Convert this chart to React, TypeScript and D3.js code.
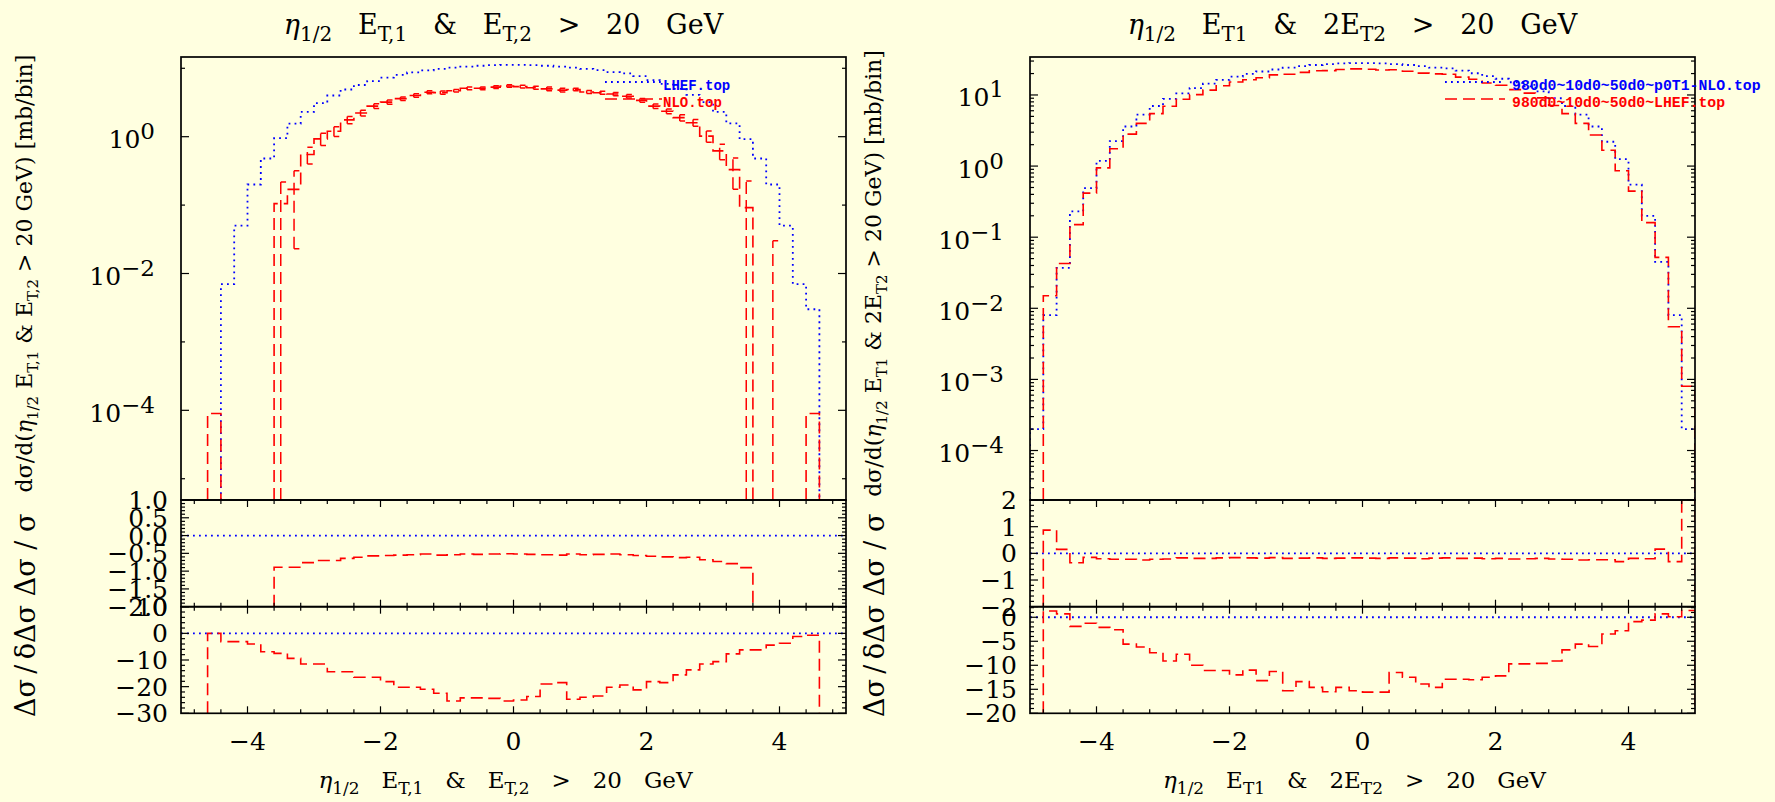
import React from 'react';
import * as d3 from 'd3';

const W = 1775;
const H = 802;
const BG = '#FFFFE0';
const BLUE = '#0000FF';
const RED = '#FF0000';

// vertical layout shared by both panels
const TOP = 57;
const MAIN_BOTTOM = 500;
const R1_BOTTOM = 606.7;
const R2_BOTTOM = 713.3;

// 50 bins of width 0.2 covering eta in [-5, 5]
const EDGES = d3.range(51).map((i) => (i - 25) / 5);
const X_TICK_LABELS = [-4, -2, 0, 2, 4];

// ---------- left panel: eta_1/2, E_T,1 & E_T,2 > 20 GeV ----------
const LHEF_TOP = [0, 0, 0, 0.007, 0.05, 0.2, 0.48, 0.95, 1.55, 2.3, 3.1, 4.0, 4.9, 5.7, 6.5, 7.3, 8.0, 8.7, 9.3, 9.8, 10.2, 10.6, 10.9, 11.1, 11.2, 11.2, 11.1, 10.9, 10.6, 10.2, 9.8, 9.4, 8.8, 8.4, 7.7, 6.7, 5.9, 5.0, 4.1, 3.2, 2.3, 1.57, 0.92, 0.48, 0.2, 0.05, 0.007, 0.003, 0, 0];
const NLO_TOP = [0, 0, 9e-5, 0, 0, 0, 0, 0.105, 0.17, 0.55, 0.93, 1.2, 1.76, 2.22, 2.8, 3.2, 3.6, 4.0, 4.46, 4.41, 4.7, 5.1, 5.1, 5.3, 5.5, 5.4, 5.2, 5.0, 4.8, 4.9, 4.5, 4.4, 4.2, 3.9, 3.4, 2.8, 2.36, 1.9, 1.6, 1.02, 0.62, 0.33, 0.092, 0, -0.02, 0, 0, 9e-5, 0, 0];
const NLO_TOP_ERR = [0, 0, 0, 0, 0, 0, 0, 0.113, 0.147, 0.152, 0.189, 0.194, 0.218, 0.21, 0.225, 0.226, 0.218, 0.233, 0.23, 0.24, 0.217, 0.228, 0.239, 0.237, 0.225, 0.233, 0.248, 0.31, 0.315, 0.215, 0.22, 0.212, 0.227, 0.234, 0.203, 0.215, 0.19, 0.2, 0.18, 0.19, 0.158, 0.16, 0.134, 0, 0.05, 0, 0, 0, 0, 0];
const LEFT_REL_DIFF = [null, null, null, null, null, null, null, -0.89, -0.89, -0.76, -0.7, -0.7, -0.64, -0.61, -0.57, -0.56, -0.55, -0.54, -0.52, -0.55, -0.54, -0.52, -0.53, -0.52, -0.51, -0.52, -0.53, -0.54, -0.55, -0.52, -0.54, -0.53, -0.52, -0.54, -0.56, -0.58, -0.6, -0.62, -0.61, -0.68, -0.73, -0.79, -0.9, null, null, null, null, null, null, null];
const LEFT_SIGNIF = [null, null, 0, -3.1, -3.1, -4.0, -6.9, -7.5, -9.4, -11.5, -11.5, -14.4, -14.4, -16.5, -16.5, -18.1, -20.2, -20.2, -21, -22.5, -25.4, -24.2, -24.2, -24.4, -25.4, -25, -23.7, -19, -18.5, -24.7, -24, -23.5, -20.2, -19.4, -21.2, -18.1, -18.5, -15.6, -13.7, -11.5, -10.6, -7.7, -6.2, -6.2, -4.4, -3.7, -1.2, -0.7, null, null];

// ---------- right panel: eta_1/2, E_T1 & 2E_T2 > 20 GeV ----------
const P0T1_NLO_TOP = [2e-4, 0.008, 0.037, 0.23, 0.49, 1.18, 2.25, 3.6, 5.3, 7.0, 8.8, 10.5, 12.5, 14.4, 16.3, 18.1, 19.8, 21.4, 22.8, 24.2, 25.4, 26.4, 27.2, 27.8, 28.1, 28.1, 27.8, 27.2, 26.4, 25.4, 24.2, 23.6, 22.0, 20.2, 18.4, 16.9, 15.1, 13.2, 11.2, 9.0, 7.0, 5.3, 3.6, 2.2, 1.25, 0.55, 0.2, 0.045, 0.008, 2e-4];
const LHEF_980_TOP = [0, 0.015, 0.0426, 0.15, 0.417, 0.944, 1.755, 2.81, 3.98, 5.46, 6.95, 8.72, 10.1, 11.7, 13.5, 15.2, 16.4, 17.5, 19.2, 19.6, 20.8, 21.9, 22.0, 22.8, 23.3, 23.0, 22.5, 22.6, 21.6, 20.3, 19.8, 19.6, 17.8, 16.6, 14.7, 13.7, 11.9, 10.6, 9.1, 7.1, 5.46, 3.98, 2.74, 1.67, 0.86, 0.445, 0.16, 0.052, 0.0055, 8e-4];
const RIGHT_REL_DIFF = [null, 0.87, 0.15, -0.35, -0.15, -0.2, -0.22, -0.22, -0.25, -0.22, -0.21, -0.17, -0.19, -0.19, -0.17, -0.16, -0.17, -0.18, -0.16, -0.19, -0.18, -0.17, -0.19, -0.18, -0.17, -0.18, -0.19, -0.17, -0.18, -0.2, -0.18, -0.17, -0.19, -0.18, -0.2, -0.19, -0.21, -0.2, -0.19, -0.21, -0.22, -0.25, -0.24, -0.24, -0.31, -0.19, -0.2, 0.16, -0.31, 3.0];
const RIGHT_SIGNIF = [null, 1.3, 0.7, -1.9, -1.25, -2.1, -2.6, -5.6, -6.2, -7.4, -9.1, -7.7, -10.0, -11.1, -11.1, -12.0, -11.0, -13.2, -11.3, -15.3, -13.4, -14.6, -15.5, -14.6, -15.3, -15.6, -15.6, -11.5, -12.5, -13.9, -14.6, -12.9, -12.9, -13.0, -12.5, -12.2, -9.7, -9.7, -9.6, -9.1, -6.8, -5.6, -6.1, -3.5, -2.8, -0.9, -0.6, 0.7, 0.1, 1.4];

// [text, 'sub' | 'sup' | null, italic]
type Part = [string, ('sub' | 'sup' | null)?, boolean?];

const LEFT_TITLE: Part[] = [['η', null, true], ['1/2', 'sub'], ['   E'], ['T,1', 'sub'], ['   &   E'], ['T,2', 'sub'], ['   >   20   GeV']];
const RIGHT_TITLE: Part[] = [['η', null, true], ['1/2', 'sub'], ['   E'], ['T1', 'sub'], ['   &   2E'], ['T2', 'sub'], ['   >   20   GeV']];
const LEFT_VAR: Part[] = [['η', null, true], ['1/2', 'sub'], [' E'], ['T,1', 'sub'], [' & E'], ['T,2', 'sub'], [' > 20 GeV']];
const RIGHT_VAR: Part[] = [['η', null, true], ['1/2', 'sub'], [' E'], ['T1', 'sub'], [' & 2E'], ['T2', 'sub'], [' > 20 GeV']];

const PANELS = [
  {
    id: 'l',
    x0: 181,
    x1: 846,
    logMin: -5.311,
    logMax: 1.165,
    logLabels: [0, -2, -4],
    logMinor: false,
    r1: [-2, 1],
    r1Major: 0.5,
    r1Minor: 0.1,
    r1Labels: ['1.0', '0.5', '0.0', '−0.5', '−1.0', '−1.5', '−2.0'],
    r1LabelVals: [1, 0.5, 0, -0.5, -1, -1.5, -2],
    r2: [-30, 10],
    r2Major: 10,
    r2Minor: 2,
    r2LabelVals: [10, 0, -10, -20, -30],
    blue: LHEF_TOP,
    red: NLO_TOP,
    redErr: NLO_TOP_ERR,
    rel: LEFT_REL_DIFF,
    sig: LEFT_SIGNIF,
    title: LEFT_TITLE,
    variable: LEFT_VAR,
    yTitleX: 32,
    legend: { lx0: 605, lx1: 662, tx: 663, size: 14, blue: 'LHEF.top', red: 'NLO.top' },
  },
  {
    id: 'r',
    x0: 1030,
    x1: 1695,
    logMin: -4.696,
    logMax: 1.534,
    logLabels: [1, 0, -1, -2, -3, -4],
    logMinor: true,
    r1: [-2, 2],
    r1Major: 1,
    r1Minor: 0.2,
    r1Labels: ['2', '1', '0', '−1', '−2'],
    r1LabelVals: [2, 1, 0, -1, -2],
    r2: [-20, 2.2],
    r2Major: 5,
    r2Minor: 1,
    r2LabelVals: [0, -5, -10, -15, -20],
    blue: P0T1_NLO_TOP,
    red: LHEF_980_TOP,
    redErr: null,
    rel: RIGHT_REL_DIFF,
    sig: RIGHT_SIGNIF,
    title: RIGHT_TITLE,
    variable: RIGHT_VAR,
    yTitleX: 881,
    legend: { lx0: 1445, lx1: 1505, tx: 1512, size: 14.8, blue: '980d0~10d0~50d0~p0T1-NLO.top', red: '980d0~10d0~50d0~LHEF.top' },
  },
];

const fmt = (v: number) => (v < 0 ? '−' + String(-v) : String(v));

function Rich({ parts, size, subSize, shift, ...rest }: any) {
  let offset = 0;
  const spans = parts.map(([t, kind, italic]: Part, i: number) => {
    const target = kind === 'sub' ? shift : kind === 'sup' ? -shift : 0;
    const dy = target - offset;
    offset = target;
    return (
      <tspan key={i} dy={dy !== 0 ? dy : undefined} fontSize={kind ? subSize : size} fontStyle={italic ? 'italic' : undefined}>
        {t}
      </tspan>
    );
  });
  return (
    <text {...rest} fontSize={size} style={{ whiteSpace: 'pre' }}>
      {spans}
    </text>
  );
}

// step outline of a histogram, one sub-path for every run of filled bins
function stepPath(vals: (number | null)[], ok: (v: number | null) => boolean, x: (v: number) => number, y: (v: number) => number, floorY: number) {
  let d = '';
  let i = 0;
  while (i < vals.length) {
    if (!ok(vals[i])) {
      i++;
      continue;
    }
    d += `M${x(EDGES[i])},${floorY}`;
    let j = i;
    while (j < vals.length && ok(vals[j])) {
      const yy = y(vals[j] as number);
      d += `L${x(EDGES[j])},${yy}L${x(EDGES[j + 1])},${yy}`;
      j++;
    }
    d += `L${x(EDGES[j])},${floorY}`;
    i = j;
  }
  return d;
}

function multiples(min: number, max: number, step: number) {
  const out: number[] = [];
  for (let k = Math.ceil(min / step - 1e-9); k <= Math.floor(max / step + 1e-9); k++) out.push(+(k * step).toFixed(6));
  return out;
}

function Panel({ c }: any) {
  const x = d3.scaleLinear().domain([-5, 5]).range([c.x0, c.x1]);
  const yMain = d3.scaleLog().domain([10 ** c.logMin, 10 ** c.logMax]).range([MAIN_BOTTOM, TOP]);
  const yR1 = d3.scaleLinear().domain(c.r1).range([R1_BOTTOM, MAIN_BOTTOM]);
  const yR2 = d3.scaleLinear().domain(c.r2).range([R2_BOTTOM, R1_BOTTOM]);
  const cx = (c.x0 + c.x1) / 2;
  const pos = (v: number | null) => v !== null && v > 0;
  const has = (v: number | null) => v !== null;

  const blueStyle = { fill: 'none', stroke: BLUE, strokeWidth: 1.8, strokeDasharray: '1.8 4.2' };
  const redStyle = { fill: 'none', stroke: RED, strokeWidth: 1.6, strokeDasharray: '12 6' };

  // y-axis ticks
  const yTicks: { y: number; len: number }[] = [];
  for (let e = Math.ceil(c.logMin); e <= Math.floor(c.logMax); e++) {
    yTicks.push({ y: yMain(10 ** e), len: c.logMinor || c.logLabels.includes(e) ? 8 : 4 });
  }
  if (c.logMinor) {
    for (let e = Math.floor(c.logMin); e <= Math.floor(c.logMax); e++) {
      for (let m = 2; m <= 9; m++) {
        const lv = Math.log10(m) + e;
        if (lv > c.logMin && lv < c.logMax) yTicks.push({ y: yMain(10 ** lv), len: 4 });
      }
    }
  }
  multiples(c.r1[0], c.r1[1], c.r1Minor).forEach((v) => {
    const major = Math.abs(v / c.r1Major - Math.round(v / c.r1Major)) < 1e-6;
    yTicks.push({ y: yR1(v), len: major ? 8 : 4 });
  });
  multiples(c.r2[0], c.r2[1], c.r2Minor).forEach((v) => {
    const major = Math.abs(v / c.r2Major - Math.round(v / c.r2Major)) < 1e-6;
    yTicks.push({ y: yR2(v), len: major ? 8 : 4 });
  });

  // x-axis ticks on both edges of the two ratio strips
  const xTicks: { x: number; y: number; dir: number; len: number }[] = [];
  multiples(-4.8, 4.8, 0.4).forEach((v) => {
    const major = Math.abs(v / 2 - Math.round(v / 2)) < 1e-6;
    const len = major ? 7 : 4;
    [
      [MAIN_BOTTOM, 1],
      [R1_BOTTOM, -1],
      [R1_BOTTOM, 1],
      [R2_BOTTOM, -1],
    ].forEach(([yy, dir]) => xTicks.push({ x: x(v), y: yy, dir, len }));
  });

  // error bars: a vertical bar at the bin centre with short caps
  const errPath = c.redErr
    ? c.redErr
        .map((e: number, i: number) => {
          const v = c.red[i];
          if (!e || !(v + e > 0)) return '';
          const xc = x((EDGES[i] + EDGES[i + 1]) / 2);
          const lo = v - e > 0 ? yMain(v - e) : MAIN_BOTTOM;
          const hi = yMain(v + e);
          const capR = x((EDGES[i] + EDGES[i + 1]) / 2 + 0.08);
          return `M${xc},${lo}L${xc},${hi}M${xc},${hi}L${capR},${hi}` + (v - e > 0 ? `M${xc},${lo}L${capR},${lo}` : '');
        })
        .join('')
    : '';

  const lg = c.legend;
  const tickFont = 25;
  const supFont = 23;

  return (
    <g>
      <defs>
        <clipPath id={`${c.id}-main`}>
          <rect x={c.x0} y={TOP} width={c.x1 - c.x0} height={MAIN_BOTTOM - TOP} />
        </clipPath>
        <clipPath id={`${c.id}-r1`}>
          <rect x={c.x0} y={MAIN_BOTTOM} width={c.x1 - c.x0} height={R1_BOTTOM - MAIN_BOTTOM} />
        </clipPath>
        <clipPath id={`${c.id}-r2`}>
          <rect x={c.x0} y={R1_BOTTOM} width={c.x1 - c.x0} height={R2_BOTTOM - R1_BOTTOM} />
        </clipPath>
      </defs>

      {/* distributions */}
      <g clipPath={`url(#${c.id}-main)`}>
        <path d={stepPath(c.blue, pos, x, yMain, MAIN_BOTTOM)} style={blueStyle as any} />
        <path d={stepPath(c.red, pos, x, yMain, MAIN_BOTTOM)} style={redStyle as any} />
        {errPath && <path d={errPath} fill="none" stroke={RED} strokeWidth={1.5} strokeDasharray="12 6" />}
      </g>

      {/* relative difference */}
      <g clipPath={`url(#${c.id}-r1)`}>
        <line x1={c.x0} x2={c.x1} y1={yR1(0)} y2={yR1(0)} style={blueStyle as any} />
        <path d={stepPath(c.rel, has, x, yR1, R1_BOTTOM)} style={redStyle as any} />
      </g>

      {/* difference over its uncertainty */}
      <g clipPath={`url(#${c.id}-r2)`}>
        <line x1={c.x0} x2={c.x1} y1={yR2(0)} y2={yR2(0)} style={blueStyle as any} />
        <path d={stepPath(c.sig, has, x, yR2, R2_BOTTOM)} style={redStyle as any} />
      </g>

      {/* frames */}
      <g fill="none" stroke="#000" strokeWidth={1.7}>
        <rect x={c.x0} y={TOP} width={c.x1 - c.x0} height={MAIN_BOTTOM - TOP} />
        <rect x={c.x0} y={MAIN_BOTTOM} width={c.x1 - c.x0} height={R1_BOTTOM - MAIN_BOTTOM} />
        <rect x={c.x0} y={R1_BOTTOM} width={c.x1 - c.x0} height={R2_BOTTOM - R1_BOTTOM} />
      </g>
      <g stroke="#000" strokeWidth={1.2}>
        {yTicks.map((t, i) => (
          <g key={i}>
            <line x1={c.x0} x2={c.x0 + t.len} y1={t.y} y2={t.y} />
            <line x1={c.x1} x2={c.x1 - t.len} y1={t.y} y2={t.y} />
          </g>
        ))}
        {xTicks.map((t, i) => (
          <line key={i} x1={t.x} x2={t.x} y1={t.y} y2={t.y + t.dir * t.len} />
        ))}
      </g>

      {/* tick labels */}
      <g fill="#000">
        {c.logLabels.map((e: number) => (
          <text key={e} x={c.x0 - 26} y={yMain(10 ** e) + 11.5} textAnchor="end" fontSize={tickFont}>
            10
            <tspan dy={-9} fontSize={supFont}>
              {fmt(e)}
            </tspan>
          </text>
        ))}
        {c.r1LabelVals.map((v: number, i: number) => (
          <text key={'a' + i} x={c.x0 - 13} y={yR1(v) + 9} textAnchor="end" fontSize={tickFont}>
            {c.r1Labels[i]}
          </text>
        ))}
        {c.r2LabelVals.map((v: number, i: number) => (
          <text key={'b' + i} x={c.x0 - 13} y={yR2(v) + 9} textAnchor="end" fontSize={tickFont}>
            {fmt(v)}
          </text>
        ))}
        {X_TICK_LABELS.map((v) => (
          <text key={'x' + v} x={x(v)} y={750} textAnchor="middle" fontSize={tickFont}>
            {fmt(v)}
          </text>
        ))}
      </g>

      {/* titles */}
      <Rich parts={c.title} size={27} subSize={20} shift={7} x={cx - 10} y={34} textAnchor="middle" fill="#000" />
      <Rich parts={c.title} size={23} subSize={17} shift={6} x={cx - 8} y={788} textAnchor="middle" fill="#000" />

      {/* y-axis title, one piece per strip */}
      <g fill="#000">
        <Rich
          parts={[['dσ/d('], ...c.variable, [') [mb/bin]']]}
          size={22}
          subSize={15}
          shift={6}
          textAnchor="middle"
          transform={`translate(${c.yTitleX},${273.5}) rotate(-90)`}
        />
        <text textAnchor="middle" fontSize={27} transform={`translate(${c.yTitleX + 3},${555}) rotate(-90)`} style={{ whiteSpace: 'pre' }}>
          {'Δσ / σ'}
        </text>
        <text textAnchor="middle" fontSize={27} transform={`translate(${c.yTitleX + 3},${661}) rotate(-90)`} style={{ whiteSpace: 'pre' }}>
          {'Δσ\u2009/\u2009δΔσ'}
        </text>
      </g>

      {/* legend */}
      <line x1={lg.lx0} x2={lg.lx1} y1={82} y2={82} style={blueStyle as any} />
      <line x1={lg.lx0} x2={lg.lx1} y1={99} y2={99} style={redStyle as any} />
      <g fontFamily="'Liberation Mono', monospace" fontWeight="bold" fontSize={lg.size}>
        <text x={lg.tx} y={90} fill={BLUE}>
          {lg.blue}
        </text>
        <text x={lg.tx} y={106.7} fill={RED}>
          {lg.red}
        </text>
      </g>
    </g>
  );
}

export default function App() {
  return (
    <svg
      width={W}
      height={H}
      viewBox={`0 0 ${W} ${H}`}
      style={{ position: 'absolute', left: 0, top: 0, display: 'block' }}
      fontFamily="'DejaVu Serif', serif"
    >
      <rect width={W} height={H} fill={BG} />
      {PANELS.map((c) => (
        <Panel key={c.id} c={c} />
      ))}
    </svg>
  );
}
